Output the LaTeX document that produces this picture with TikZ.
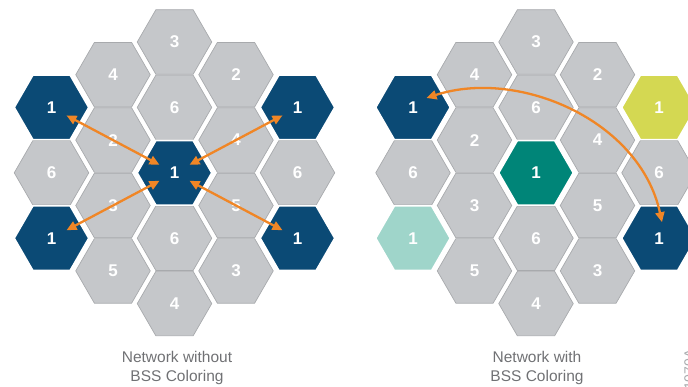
\documentclass[tikz,border=0pt]{standalone}
\usepackage{fontspec}
\setmainfont{Liberation Sans}
\usetikzlibrary{shapes.geometric,arrows.meta,calc}
\definecolor{hexgray}{RGB}{197,199,202}
\definecolor{hexline}{RGB}{168,170,173}
\definecolor{darkblue}{RGB}{11,74,117}
\definecolor{tealc}{RGB}{0,133,120}
\definecolor{lightteal}{RGB}{159,213,202}
\definecolor{yellowc}{RGB}{212,216,82}
\definecolor{orangec}{RGB}{240,134,38}
\definecolor{captiongray}{RGB}{112,113,116}
\tikzset{
  hex/.style={regular polygon, regular polygon sides=6, minimum size=74.5pt,
    inner sep=0pt, outer sep=0pt, draw=hexline, line width=0.7pt, fill=hexgray,
    text=white, font=\bfseries\fontsize{17}{17}\selectfont},
  bluehex/.style={hex, fill=darkblue, draw=white, line width=1.6pt},
  tealhex/.style={hex, fill=tealc, draw=white, line width=1.6pt},
  ltealhex/.style={hex, fill=lightteal, draw=white, line width=1.6pt},
  yellowhex/.style={hex, fill=yellowc, draw=white, line width=1.6pt},
  arr/.style={draw=orangec, line width=2.3pt,
    {Triangle[length=10pt,width=9pt]}-{Triangle[length=10pt,width=9pt]}},
  straightarr/.style={arr, shorten <=17pt, shorten >=17pt},
  caption/.style={align=center, text=captiongray, font=\fontsize{15.5}{19.5}\selectfont},
}
\begin{document}
\begin{tikzpicture}[x=1pt,y=-1pt]
\useasboundingbox (0,0) rectangle (688,386);
% ---------- left cluster ----------
% column 1
\node[hex] (La6) at (51.5,172.8) {6};
% column 2
\node[hex] (Lb4) at (113,74.7) {4};
\node[hex] (Lb2) at (113,140.1) {2};
\node[hex] (Lb3) at (113,205.5) {3};
\node[hex] (Lb5) at (113,270.9) {5};
% column 3
\node[hex] (Lc3) at (174.5,42) {3};
\node[hex] (Lc6) at (174.5,107.4) {6};
\node[hex] (Lc6b) at (174.5,238.2) {6};
\node[hex] (Lc4) at (174.5,303.6) {4};
% column 4
\node[hex] (Ld2) at (236,74.7) {2};
\node[hex] (Ld4) at (236,140.1) {4};
\node[hex] (Ld5) at (236,205.5) {5};
\node[hex] (Ld3) at (236,270.9) {3};
% column 5
\node[hex] (Le6) at (297.5,172.8) {6};
% coloured
\node[bluehex] (La1) at (51.5,107.4) {1};
\node[bluehex] (La1b) at (51.5,238.2) {1};
\node[bluehex] (Lc1) at (174.5,172.8) {1};
\node[bluehex] (Le1) at (297.5,107.4) {1};
\node[bluehex] (Le1b) at (297.5,238.2) {1};
% arrows
\draw[straightarr] (La1.center) -- (Lc1.center);
\draw[straightarr] (Le1.center) -- (Lc1.center);
\draw[straightarr] (La1b.center) -- (Lc1.center);
\draw[straightarr] (Le1b.center) -- (Lc1.center);
\node[caption] (Lcap) at (177,368) {Network without\\BSS Coloring};
% ---------- right cluster ----------
\node[hex] (Ra6) at (413,172.8) {6};
\node[hex] (Rb4) at (474.5,74.7) {4};
\node[hex] (Rb2) at (474.5,140.1) {2};
\node[hex] (Rb3) at (474.5,205.5) {3};
\node[hex] (Rb5) at (474.5,270.9) {5};
\node[hex] (Rc3) at (536,42) {3};
\node[hex] (Rc6) at (536,107.4) {6};
\node[hex] (Rc6b) at (536,238.2) {6};
\node[hex] (Rc4) at (536,303.6) {4};
\node[hex] (Rd2) at (597.5,74.7) {2};
\node[hex] (Rd4) at (597.5,140.1) {4};
\node[hex] (Rd5) at (597.5,205.5) {5};
\node[hex] (Rd3) at (597.5,270.9) {3};
\node[hex] (Re6) at (659,172.8) {6};
\node[bluehex] (Ra1) at (413,107.4) {1};
\node[ltealhex] (Ra1b) at (413,238.2) {1};
\node[tealhex] (Rc1) at (536,172.8) {1};
\node[yellowhex] (Re1) at (659,107.4) {1};
\node[bluehex] (Re1b) at (659,238.2) {1};
\draw[arr] ($(Ra1.center)+(13.5,-9.4)$) .. controls (518,68) and (640,120) .. ($(Re1b.center)+(3,-16)$);
\node[caption] (Rcap) at (537,368) {Network with\\BSS Coloring};
% clipped figure number
\node[rotate=90, anchor=base west, text=hexline, font=\fontsize{14}{14}\selectfont, inner sep=0pt] (fig) at (694,390) {1070A};
\end{tikzpicture}
\end{document}
